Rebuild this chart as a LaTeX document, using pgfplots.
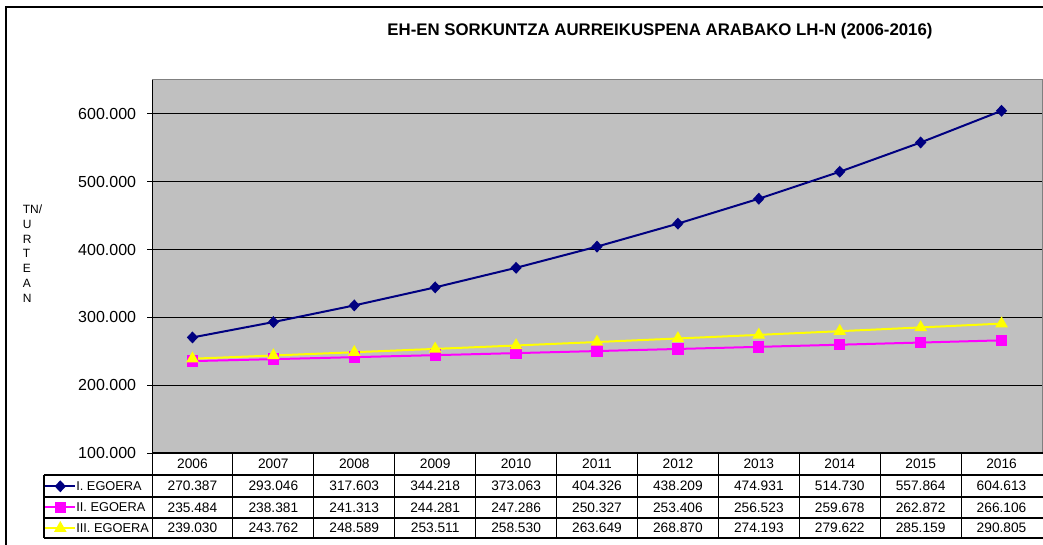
\documentclass[border=0pt]{standalone}
\usepackage{pgfplots}
\pgfplotsset{compat=1.18}
\usepackage{pgfplotstable}
\usepackage{fontspec}
\setmainfont{Liberation Sans}

\definecolor{navyline}{RGB}{0,0,128}
\definecolor{magline}{RGB}{255,0,255}
\definecolor{yelline}{RGB}{255,255,0}
\definecolor{plotgray}{RGB}{192,192,192}

\pgfplotstableread{
x year a b c
0 2006 270387 235484 239030
1 2007 293046 238381 243762
2 2008 317603 241313 248589
3 2009 344218 244281 253511
4 2010 373063 247286 258530
5 2011 404326 250327 263649
6 2012 438209 253406 268870
7 2013 474931 256523 274193
8 2014 514730 259678 279622
9 2015 557864 262872 285159
10 2016 604613 266106 290805
}\datatable

\begin{document}
\begin{tikzpicture}
\useasboundingbox (0,0) rectangle (782.25pt,408pt);
\begin{axis}[
  at={(114pt,68.25pt)}, anchor=south west,
  scale only axis, width=667.5pt, height=279.75pt,
  xmin=-0.5, xmax=10.5, ymin=100000, ymax=650000,
  xtick=\empty,
  ytick={100000,200000,300000,400000,500000,600000},
  scaled y ticks=false,
  yticklabel style={/pgf/number format/fixed, /pgf/number format/precision=0, /pgf/number format/1000 sep={.}, /pgf/number format/assume math mode=true},
  y tick label style={font=\fontsize{12}{14}\selectfont, inner sep=0pt, xshift=-8pt},
  ymajorgrids, grid style={black, line width=0.75pt},
  axis background/.style={fill=plotgray},
  axis line style={draw=gray, line width=0.75pt},
  tick style={black, line width=0.75pt},
  tick align=outside, ytick pos=left, major tick length=3.75pt,
  clip=false,
  legend style={at={(-0.1213,-0.0689)}, anchor=north west, draw=none, fill=none,
    inner sep=0pt, row sep=4.75pt, column sep=0pt,
    font=\fontsize{9.6}{11}\selectfont,
    nodes={inner sep=0pt, text height=9pt, text depth=2pt}},
  legend cell align=left,
  legend image code/.code={\draw[mark repeat=2,mark phase=2] plot coordinates {(0pt,0pt) (11.25pt,0pt) (22.5pt,0pt)};},
]
\addplot[navyline, line width=1.5pt, mark=diamond*, mark size=3.4pt, mark options={fill=navyline, xscale=1.25}] table[x=x,y=a]{\datatable};
\addlegendentry{I. EGOERA}
\addplot[magline, line width=1.5pt, mark=square*, mark size=3.5pt, mark options={fill=magline}] table[x=x,y=b]{\datatable};
\addlegendentry{II. EGOERA}
\addplot[yelline, line width=1.5pt, mark=triangle*, mark size=4pt, mark options={fill=yelline}] table[x=x,y=c]{\datatable};
\addlegendentry{III. EGOERA}
\end{axis}
\begin{scope}[x=0.75pt, y=-0.75pt, yshift=408pt]
  % outer frame
  \draw[black, line width=1.1pt] (6,600) -- (6,7) -- (1100,7);
  % left axis line
  \draw[black, line width=0.75pt] (152,80) -- (152,538);
  % table lines
  \draw[black, line width=0.8pt] (152,453) -- (1100,453);
  \foreach \yy in {475,497,518,538} { \draw[black, line width=0.8pt] (44,\yy) -- (1100,\yy); }
  \draw[black, line width=0.8pt] (44,475) -- (44,538);
  \foreach \i in {1,...,10} { \draw[black, line width=0.8pt] ({152+80.909*\i},453) -- ({152+80.909*\i},538); }
  % table text
  \pgfkeys{/pgf/number format/.cd, fixed, precision=0, 1000 sep={.}, assume math mode=true}
  \foreach \i in {0,...,10} {
    \pgfmathsetmacro{\cx}{152+80.909*(\i+0.5)}
    \pgfplotstablegetelem{\i}{year}\of\datatable
    \node[font=\fontsize{10.3}{12}\selectfont] at (\cx,464) {\pgfplotsretval};
    \pgfplotstablegetelem{\i}{a}\of\datatable
    \node[font=\fontsize{10.3}{12}\selectfont] at (\cx,486) {\pgfmathprintnumber{\pgfplotsretval}};
    \pgfplotstablegetelem{\i}{b}\of\datatable
    \node[font=\fontsize{10.3}{12}\selectfont] at (\cx,507.5) {\pgfmathprintnumber{\pgfplotsretval}};
    \pgfplotstablegetelem{\i}{c}\of\datatable
    \node[font=\fontsize{10.3}{12}\selectfont] at (\cx,528) {\pgfmathprintnumber{\pgfplotsretval}};
  }
  % title
  \node[font=\fontsize{12.6}{15}\selectfont\bfseries] at (660,31) {EH-EN SORKUNTZA AURREIKUSPENA ARABAKO LH-N (2006-2016)};
  % y label
  \node[anchor=west, align=left, inner sep=0pt, font=\fontsize{9}{11.1}\selectfont] at (22.6,253.5) {TN/\\U\\R\\T\\E\\A\\N};
\end{scope}
\end{tikzpicture}
\end{document}
